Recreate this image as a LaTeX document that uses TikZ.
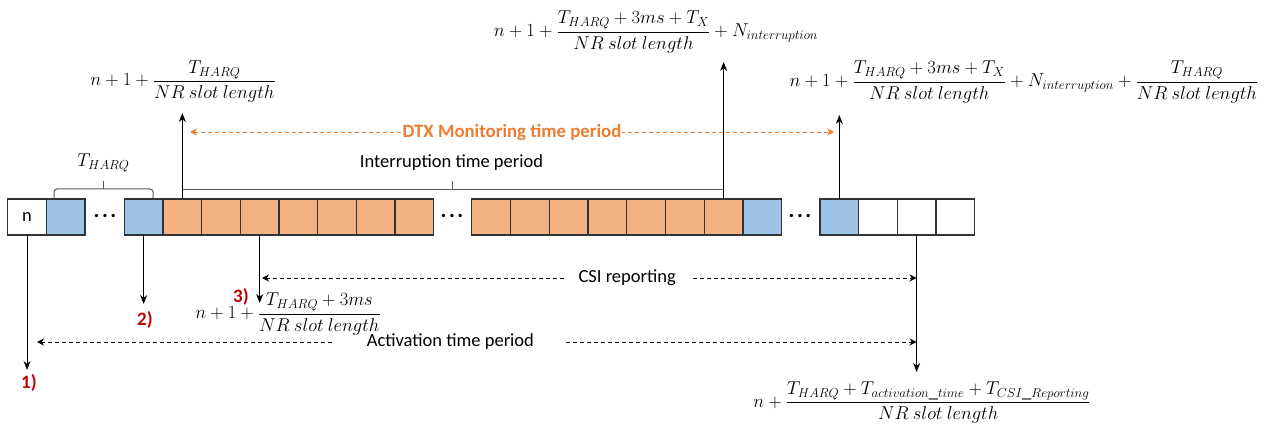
\documentclass[tikz,border=0pt]{standalone}
\usepackage{fix-cm}
\usepackage{fontspec}
\setmainfont{Carlito}
\usetikzlibrary{arrows.meta,calc}
\definecolor{org}{HTML}{F4B183}
\definecolor{blu}{HTML}{9DC3E6}
\definecolor{dtx}{HTML}{ED7D31}
\definecolor{redl}{HTML}{C00000}
\definecolor{edge}{HTML}{333333}
\definecolor{brk}{HTML}{595959}
\begin{document}
\begin{tikzpicture}[x=1pt,y=-1pt,
 slot/.style={draw=edge, line width=1.3pt, minimum width=38.7pt, minimum height=36pt, inner sep=0pt, outer sep=0pt, anchor=west, font=\fontsize{18.5}{20}\selectfont},
 oslot/.style={slot, fill=org},
 bslot/.style={slot, fill=blu},
 wslot/.style={slot, fill=white},
 arr/.style={-{Stealth[length=9pt,width=7pt]}, line width=1pt, black},
 darr/.style={dashed, dash pattern=on 4pt off 3pt, line width=0.9pt, {Stealth[length=7pt,width=7pt]}-{Stealth[length=7pt,width=7pt]}},
 lbl/.style={font=\fontsize{18.5}{20}\selectfont, inner sep=1pt},
 num/.style={font=\fontsize{19}{20}\selectfont\bfseries, text=redl, inner sep=0pt},
 fml/.style={font=\fontsize{18.6}{22}\selectfont, inner sep=0pt, anchor=base},
 dotsn/.style={font=\fontsize{22}{22}\selectfont\bfseries, inner sep=0pt, anchor=base},
 brack/.style={draw=brk, line width=1pt}
]
\useasboundingbox (0,0) rectangle (1276,427);

% slots
\node[wslot] (b1) at (7.7,217) {n};
\node[bslot] (b2) at (46.4,217) {};
\node[dotsn] (d1) at (105,218) {.\kern2.5pt.\kern2.5pt.};
\node[bslot] (b3) at (124.3,217) {};
\foreach \i in {1,...,7}
  \node[oslot] (o\i) at ({163+38.67*(\i-1)},217) {};
\node[dotsn] (d2) at (452,218) {.\kern2.5pt.\kern2.5pt.};
\foreach \i in {8,...,14}
  \node[oslot] (o\i) at ({471.7+38.76*(\i-8)},217) {};
\node[bslot] (b4) at (743,217) {};
\node[dotsn] (d3) at (800,218) {.\kern2.5pt.\kern2.5pt.};
\node[bslot] (b5) at (820,217) {};
\node[wslot] (w1) at (858.6,217) {};
\node[wslot] (w2) at (897.3,217) {};
\node[wslot] (w3) at (936,217) {};
\draw[edge, line width=2.4pt] (w3.north west) -- (w3.south west);

% T_HARQ bracket
\coordinate (hl) at (54,198);
\coordinate (hr) at (153,198);
\draw[brack, rounded corners=3pt] (hl) -- (54,189) -- (153,189) -- (hr);
\draw[brack] (103.5,189) -- (103.5,181);
\node[fml] (tharq) at (103.5,167) {$T_{HARQ}$};

% interruption bracket
\coordinate (iy) at (0,190);
\draw[brack] (o1.north |- iy) -- (o14.north |- iy);
\draw[brack] (452.5,190) -- (452.5,181);
\node[lbl] (intr) at (451.5,163) {Interruption time period};

% level coordinates
\coordinate (l1) at (0,113);
\coordinate (l2) at (0,62);
\coordinate (l3) at (0,115);
\coordinate (l4) at (0,370);
\coordinate (l5) at (0,304);
\coordinate (l6) at (0,303);
\coordinate (l7) at (0,372);

% vertical arrows
\draw[arr] (o1.north) -- (o1.north |- l1);
\draw[arr] (o14.north) -- (o14.north |- l2);
\draw[arr] (b5.north) -- (b5.north |- l3);
\draw[arr] (b1.south) -- (b1.south |- l4);
\draw[arr] (b3.south) -- (b3.south |- l5);
\draw[arr] (o3.south) -- (o3.south |- l6);
\draw[arr] (w2.south) -- (w2.south |- l7);

% dashed spans
\coordinate (dtxL) at (190,132);
\coordinate (dtxR) at (834,132);
\draw[darr, draw=dtx] (dtxL) -- (dtxR) node[pos=0.5, fill=white, inner xsep=1pt, inner ysep=1pt, text=dtx, font=\fontsize{18.8}{20}\selectfont\bfseries] (dtx) {DTX Monitoring time period};

\coordinate (csiL) at (262,278);
\coordinate (csiR) at (916.5,278);
\draw[darr] (csiL) -- (csiR) node[pos=0.558, fill=white, inner xsep=15pt, font=\fontsize{18.5}{20}\selectfont] (csi) {CSI reporting};

\coordinate (actL) at (37,342);
\coordinate (actR) at (916.5,342);
\draw[darr] (actL) -- (actR) node[pos=0.47, fill=white, inner xsep=32pt, font=\fontsize{18.5}{20}\selectfont] (act) {Activation time period};

% step labels
\node[num] (n1) at (29,383) {1)};
\node[num] (n2) at (145,320) {2)};
\node[num] (n3) at (241,297) {3)};

% formulas
\node[fml] (f1) at (183,86) {$\displaystyle n+1+\frac{T_{HARQ}}{NR\ slot\ length}$};
\node[fml] (f2) at (656,36.5) {$\displaystyle n+1+\frac{T_{HARQ}+3ms+T_X}{NR\ slot\ length}+N_{interruption}$};
\node[fml] (f3) at (1024,86.5) {$\displaystyle n+1+\frac{T_{HARQ}+3ms+T_X}{NR\ slot\ length}+N_{interruption}+\frac{T_{HARQ}}{NR\ slot\ length}$};
\node[fml] (f4) at (288,318.5) {$\displaystyle n+1+\frac{T_{HARQ}+3ms}{NR\ slot\ length}$};
\node[fml] (f5) at (922,407) {$\displaystyle n+\frac{T_{HARQ}+T_{activation\_time}+T_{CSI\_Reporting}}{NR\ slot\ length}$};
\end{tikzpicture}
\end{document}
